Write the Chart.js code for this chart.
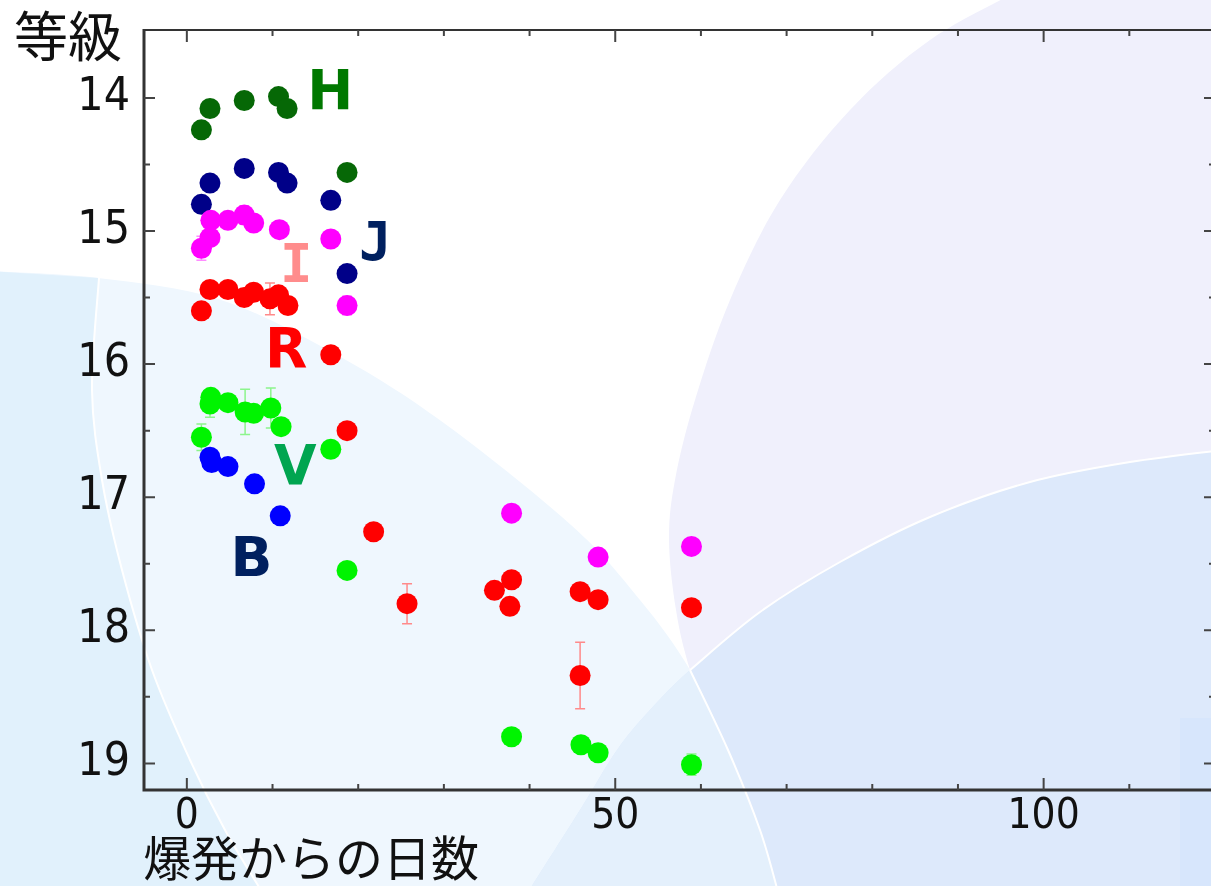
<!DOCTYPE html>
<html>
<head>
<meta charset="utf-8">
<script src="https://cdn.jsdelivr.net/npm/chart.js@4.4.1/dist/chart.umd.min.js"></script>
<style>
  html, body { margin: 0; padding: 0; background: #fff; overflow: hidden; }
  #wrap { position: relative; width: 1211px; height: 886px; overflow: hidden; }
  #bg, #chart { position: absolute; left: 0; top: 0; }
</style>
</head>
<body>
<div id="wrap">
  <svg id="bg" width="1230" height="886" xmlns="http://www.w3.org/2000/svg"></svg>
  <canvas id="chart" width="1230" height="886"></canvas>
</div>
<script>
// ---- data (days since outburst, magnitude, error) ----
const hDays = [1.7, 2.7, 6.7, 10.7, 11.7, 18.7];
const hMag  = [14.24, 14.08, 14.02, 13.99, 14.08, 14.56];
const hErr  = [0, 0, 0, 0, 0, 0];

const jDays = [1.7, 2.7, 6.7, 10.7, 11.7, 16.8, 18.7];
const jMag  = [14.80, 14.64, 14.53, 14.56, 14.64, 14.77, 15.32];
const jErr  = [0, 0, 0, 0, 0, 0, 0.06];

const iDays = [1.7, 2.7, 2.8, 4.8, 6.7, 7.8, 10.8, 16.8, 18.7, 37.9, 48.0, 58.9];
const iMag  = [15.13, 15.05, 14.92, 14.92, 14.88, 14.94, 14.99, 15.06, 15.56, 17.12, 17.45, 17.37];
const iErr  = [0.09, 0, 0, 0, 0.07, 0, 0, 0, 0.07, 0, 0, 0];

const rDays = [1.7, 2.7, 4.8, 6.7, 7.8, 9.7, 10.7, 11.8, 16.8, 18.7, 21.8, 25.7, 35.9, 37.9, 37.7, 45.9, 48.0, 45.9, 58.9];
const rMag  = [15.60, 15.44, 15.44, 15.50, 15.46, 15.51, 15.48, 15.56, 15.93, 16.50, 17.26, 17.80, 17.70, 17.62, 17.82, 17.71, 17.77, 18.34, 17.83];
const rErr  = [0, 0, 0, 0, 0, 0.12, 0, 0, 0, 0, 0, 0.15, 0, 0, 0, 0, 0, 0.25, 0];

const vDays = [1.7, 2.7, 2.8, 4.8, 6.8, 7.8, 9.8, 11.0, 16.8, 18.7, 37.9, 46.0, 48.0, 58.9];
const vMag  = [16.55, 16.30, 16.25, 16.29, 16.36, 16.37, 16.33, 16.47, 16.64, 17.55, 18.80, 18.86, 18.92, 19.01];
const vErr  = [0.10, 0.10, 0, 0, 0.17, 0, 0.15, 0, 0, 0, 0, 0, 0, 0.08];

const bDays = [2.7, 2.9, 4.8, 7.9, 10.9];
const bMag  = [16.70, 16.74, 16.77, 16.90, 17.14];
const bErr  = [0.06, 0, 0, 0, 0];

const xTickLabels = [0, 50, 100];
const yTickLabels = [14, 15, 16, 17, 18, 19];

// band name, where its letter sits (data coords), colours
const bandLabels = [
  { text: "H", x: 16.74, y: 13.93, color: "#007800", mono: false },
  { text: "J", x: 22.0,  y: 15.07, color: "#00205f", mono: true },
  { text: "I", x: 12.78, y: 15.23, color: "#ff8c8c", mono: true },
  { text: "R", x: 11.6,  y: 15.87, color: "#ff0000", mono: false },
  { text: "V", x: 12.65, y: 16.75, color: "#00a550", mono: false },
  { text: "B", x: 7.53,  y: 17.44, color: "#00205f", mono: false },
];

// ---- decorative slide background ----
function smooth(pts) {
  let d = `M${pts[0][0]},${pts[0][1]}`;
  for (let i = 0; i < pts.length - 1; i++) {
    const p0 = pts[i - 1] || pts[i], p1 = pts[i], p2 = pts[i + 1], p3 = pts[i + 2] || p2;
    const c1 = [p1[0] + (p2[0] - p0[0]) / 6, p1[1] + (p2[1] - p0[1]) / 6];
    const c2 = [p2[0] - (p3[0] - p1[0]) / 6, p2[1] - (p3[1] - p1[1]) / 6];
    d += ` C${c1[0]},${c1[1]} ${c2[0]},${c2[1]} ${p2[0]},${p2[1]}`;
  }
  return d;
}
(function drawBackground() {
  const bEdge = [[-10,271],[98,278],[218,299],[328,350],[437,418],[571,525],[640,600],[690,670],[728,750],[760,830],[778,892]];
  const wCurve = [[99,278],[92,390],[102,480],[122,570],[152,670],[190,760],[225,830],[262,892]];
  const pEdge = [[1020,-10],[930,40],[850,110],[780,200],[730,300],[695,400],[675,480],[669,540],[676,610],[690,670],[720,760],[762,892]];
  const cEdge = [[528,892],[580,810],[617,750],[650,710],[690,670],[760,612],[840,562],[930,517],[1030,482],[1130,462],[1232,449]];
  const bPath = smooth(bEdge) + " L778,892 L-10,892 Z";
  const cPath = smooth(cEdge) + " L1232,892 Z";
  const svg = document.getElementById("bg");
  svg.innerHTML = `
    <defs><clipPath id="clipC"><path d="${cPath}"/></clipPath></defs>
    <path d="${bPath}" fill="#eff7fe"/>
    <path d="M-10,271 L99,278 ${smooth(wCurve).replace(/^M[^ ]+/, "")} L-10,892 Z" fill="#e1f1fc"/>
    <path d="${smooth(wCurve)}" fill="none" stroke="#ffffff" stroke-width="2"/>
    <path d="${smooth(pEdge)} L1232,892 L1232,-10 Z" fill="#f0f0fc"/>
    <path d="${cPath}" fill="#dde9fb"/>
    <path d="${bPath}" fill="#e4f0fc" clip-path="url(#clipC)"/>
    <path d="${smooth(bEdge.slice(7))}" fill="none" stroke="#ffffff" stroke-width="2"/>
    <path d="${smooth(cEdge.slice(4))}" fill="none" stroke="#ffffff" stroke-width="2"/>
    <rect x="1180" y="718" width="60" height="180" fill="#d7e6fc"/>`;
})();

// ---- chart ----
const pts = (days, mag) => days.map((d, i) => ({ x: d, y: mag[i] }));
const series = [
  { label: "B", data: pts(bDays, bMag), err: bErr, color: "#0000ff", errColor: "#6a6aff" },
  { label: "V", data: pts(vDays, vMag), err: vErr, color: "#00f400", errColor: "#8cf58c" },
  { label: "R", data: pts(rDays, rMag), err: rErr, color: "#ff0000", errColor: "#ff8a8a" },
  { label: "I", data: pts(iDays, iMag), err: iErr, color: "#ff00ff", errColor: "#ff8cff" },
  { label: "J", data: pts(jDays, jMag), err: jErr, color: "#000088", errColor: "#5a5ab0" },
  { label: "H", data: pts(hDays, hMag), err: hErr, color: "#066806", errColor: "#5aa05a" },
];

const tickFont = '"Liberation Sans Narrow", "DejaVu Sans Condensed", "Liberation Sans", sans-serif';
const cjkFont = '"Noto Sans CJK JP", sans-serif';

const errorBars = {
  id: "errorBars",
  beforeDatasetsDraw(chart) {
    const { ctx, scales: { x, y } } = chart;
    ctx.save();
    ctx.lineWidth = 1.5;
    series.forEach((s) => {
      ctx.strokeStyle = s.errColor;
      s.data.forEach((p, i) => {
        const e = s.err[i];
        if (!e) return;
        const px = x.getPixelForValue(p.x);
        const y1 = y.getPixelForValue(p.y - e), y2 = y.getPixelForValue(p.y + e);
        ctx.beginPath();
        ctx.moveTo(px, y1); ctx.lineTo(px, y2);
        ctx.moveTo(px - 5, y1); ctx.lineTo(px + 5, y1);
        ctx.moveTo(px - 5, y2); ctx.lineTo(px + 5, y2);
        ctx.stroke();
      });
    });
    ctx.restore();
  },
};

const decorations = {
  id: "decorations",
  afterDatasetsDraw(chart) {
    const { ctx, scales: { x, y } } = chart;
    ctx.save();
    ctx.textAlign = "center";
    ctx.textBaseline = "alphabetic";
    bandLabels.forEach((l) => {
      ctx.font = l.mono ? 'bold 54px "DejaVu Sans Mono", monospace' : 'bold 55px "DejaVu Sans", sans-serif';
      ctx.fillStyle = l.color;
      ctx.fillText(l.text, x.getPixelForValue(l.x), y.getPixelForValue(l.y) + 20);
    });
    ctx.restore();
  },
  afterDraw(chart) {
    const { ctx, chartArea: a, scales: { x, y } } = chart;
    ctx.save();
    // frame
    ctx.strokeStyle = "#333";
    ctx.lineWidth = 2;
    ctx.beginPath(); ctx.moveTo(a.left, a.top); ctx.lineTo(a.right, a.top); ctx.lineTo(a.right, a.bottom); ctx.stroke();
    ctx.lineWidth = 3;
    ctx.beginPath(); ctx.moveTo(a.left, a.top - 1); ctx.lineTo(a.left, a.bottom); ctx.lineTo(a.right, a.bottom); ctx.stroke();
    // inward tick marks
    ctx.lineWidth = 2;
    ctx.strokeStyle = "#444";
    x.ticks.forEach((t) => {
      const px = x.getPixelForValue(t.value);
      const len = xTickLabels.includes(t.value) ? 12 : 6;
      ctx.beginPath();
      ctx.moveTo(px, a.bottom); ctx.lineTo(px, a.bottom - len);
      ctx.moveTo(px, a.top); ctx.lineTo(px, a.top + len);
      ctx.stroke();
    });
    y.ticks.forEach((t) => {
      const py = y.getPixelForValue(t.value);
      if (py < a.top + 3) return;
      const len = yTickLabels.includes(t.value) ? 11 : 6;
      ctx.beginPath();
      ctx.moveTo(a.left, py); ctx.lineTo(a.left + len, py);
      ctx.moveTo(a.right, py); ctx.lineTo(a.right - len, py);
      ctx.stroke();
    });
    // axis titles
    ctx.fillStyle = "#111";
    ctx.textBaseline = "middle";
    ctx.textAlign = "left";
    ctx.font = "54px " + cjkFont;
    ctx.fillText("等級", 14, 36);
    ctx.font = "48px " + cjkFont;
    ctx.fillText("爆発からの日数", 143, 858);
    ctx.restore();
  },
};

new Chart(document.getElementById("chart"), {
  type: "scatter",
  data: {
    datasets: series.map((s) => ({
      label: s.label,
      data: s.data,
      backgroundColor: s.color,
      borderWidth: 0,
      pointRadius: 10.5,
      pointHoverRadius: 10.5,
    })),
  },
  options: {
    responsive: false,
    animation: false,
    layout: { padding: { left: 0, top: 30, right: 15, bottom: 0 } },
    plugins: { legend: { display: false }, tooltip: { enabled: false } },
    scales: {
      x: {
        type: "linear",
        min: -5,
        max: 120,
        afterFit: (s) => { s.height = 96; s.paddingLeft = 0; s.paddingRight = 0; },
        grid: { display: false, drawTicks: false },
        border: { display: false },
        ticks: {
          stepSize: 10,
          includeBounds: false,
          autoSkip: false,
          maxRotation: 0,
          padding: 2,
          color: "#111",
          font: { family: tickFont, size: 42 },
          callback: (v) => (xTickLabels.includes(v) ? String(v) : ""),
        },
      },
      y: {
        type: "linear",
        reverse: true,
        min: 13.49,
        max: 19.2,
        afterFit: (s) => { s.width = 144; s.paddingTop = 0; s.paddingBottom = 0; },
        grid: { display: false, drawTicks: false },
        border: { display: false },
        ticks: {
          stepSize: 0.5,
          includeBounds: false,
          autoSkip: false,
          padding: 14,
          color: "#111",
          font: { family: tickFont, size: 46 },
          callback: (v) => (yTickLabels.includes(v) ? String(v) : ""),
        },
      },
    },
  },
  plugins: [errorBars, decorations],
});
</script>
</body>
</html>
